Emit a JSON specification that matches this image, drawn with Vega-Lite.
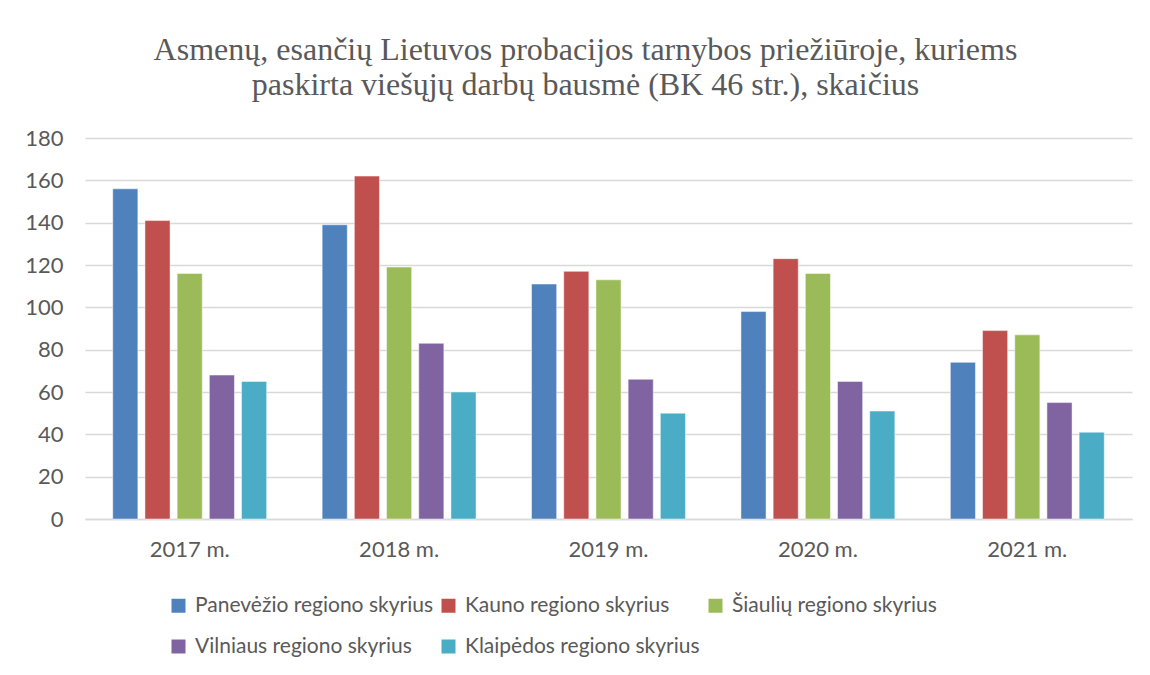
{
  "$schema": "https://vega.github.io/schema/vega-lite/v6.json",
  "width": 1047,
  "height": 381,
  "autosize": "none",
  "padding": {"left": 85, "top": 138, "right": 18, "bottom": 156},
  "background": "white",
  "title": {
    "text": ["Asmenų, esančių Lietuvos probacijos tarnybos priežiūroje, kuriems", "paskirta viešųjų darbų bausmė (BK 46 str.), skaičius"],
    "font": "Liberation Serif",
    "fontSize": 32,
    "fontWeight": "normal",
    "color": "#595959",
    "lineHeight": 35,
    "anchor": "middle",
    "dx": -23,
    "offset": 25
  },
  "data": {
    "values": [
      {"year": "2017 m.", "region": "Panevėžio regiono skyrius", "value": 156},
      {"year": "2017 m.", "region": "Kauno regiono skyrius", "value": 141},
      {"year": "2017 m.", "region": "Šiaulių regiono skyrius", "value": 116},
      {"year": "2017 m.", "region": "Vilniaus regiono skyrius", "value": 68},
      {"year": "2017 m.", "region": "Klaipėdos regiono skyrius", "value": 65},
      {"year": "2018 m.", "region": "Panevėžio regiono skyrius", "value": 139},
      {"year": "2018 m.", "region": "Kauno regiono skyrius", "value": 162},
      {"year": "2018 m.", "region": "Šiaulių regiono skyrius", "value": 119},
      {"year": "2018 m.", "region": "Vilniaus regiono skyrius", "value": 83},
      {"year": "2018 m.", "region": "Klaipėdos regiono skyrius", "value": 60},
      {"year": "2019 m.", "region": "Panevėžio regiono skyrius", "value": 111},
      {"year": "2019 m.", "region": "Kauno regiono skyrius", "value": 117},
      {"year": "2019 m.", "region": "Šiaulių regiono skyrius", "value": 113},
      {"year": "2019 m.", "region": "Vilniaus regiono skyrius", "value": 66},
      {"year": "2019 m.", "region": "Klaipėdos regiono skyrius", "value": 50},
      {"year": "2020 m.", "region": "Panevėžio regiono skyrius", "value": 98},
      {"year": "2020 m.", "region": "Kauno regiono skyrius", "value": 123},
      {"year": "2020 m.", "region": "Šiaulių regiono skyrius", "value": 116},
      {"year": "2020 m.", "region": "Vilniaus regiono skyrius", "value": 65},
      {"year": "2020 m.", "region": "Klaipėdos regiono skyrius", "value": 51},
      {"year": "2021 m.", "region": "Panevėžio regiono skyrius", "value": 74},
      {"year": "2021 m.", "region": "Kauno regiono skyrius", "value": 89},
      {"year": "2021 m.", "region": "Šiaulių regiono skyrius", "value": 87},
      {"year": "2021 m.", "region": "Vilniaus regiono skyrius", "value": 55},
      {"year": "2021 m.", "region": "Klaipėdos regiono skyrius", "value": 41}
    ]
  },
  "mark": {"type": "bar", "stroke": "#ffffff", "strokeWidth": 0.8, "strokeOpacity": 0.6},
  "encoding": {
    "x": {
      "field": "year",
      "type": "nominal",
      "title": null,
      "scale": {"paddingInner": 0.265, "paddingOuter": 0.1325},
      "axis": {
        "labelAngle": 0,
        "labelFont": "Lato",
        "labelFontSize": 22,
        "labelColor": "#595959",
        "labelPadding": 20,
        "ticks": false,
        "domainColor": "#d9d9d9",
        "domainWidth": 1.5
      }
    },
    "xOffset": {
      "field": "region",
      "type": "nominal",
      "sort": ["Panevėžio regiono skyrius", "Kauno regiono skyrius", "Šiaulių regiono skyrius", "Vilniaus regiono skyrius", "Klaipėdos regiono skyrius"],
      "scale": {"paddingInner": 0.22, "paddingOuter": 0}
    },
    "y": {
      "field": "value",
      "type": "quantitative",
      "title": null,
      "scale": {"domain": [0, 180]},
      "axis": {
        "values": [0, 20, 40, 60, 80, 100, 120, 140, 160, 180],
        "labelFont": "Lato",
        "labelFontSize": 22,
        "labelColor": "#595959",
        "labelPadding": 22,
        "ticks": false,
        "domain": false,
        "gridColor": "#d9d9d9",
        "gridWidth": 1.5
      }
    },
    "color": {
      "field": "region",
      "type": "nominal",
      "sort": ["Panevėžio regiono skyrius", "Kauno regiono skyrius", "Šiaulių regiono skyrius", "Vilniaus regiono skyrius", "Klaipėdos regiono skyrius"],
      "scale": {
        "domain": ["Panevėžio regiono skyrius", "Kauno regiono skyrius", "Šiaulių regiono skyrius", "Vilniaus regiono skyrius", "Klaipėdos regiono skyrius"],
        "range": ["#4F81BD", "#C0504D", "#9BBB59", "#8064A2", "#4BACC6"]
      },
      "legend": {
        "title": null,
        "orient": "none",
        "legendX": 83,
        "legendY": 457,
        "direction": "horizontal",
        "columns": 3,
        "columnPadding": 5,
        "rowPadding": 19,
        "symbolType": "square",
        "symbolSize": 196,
        "symbolStrokeWidth": 0,
        "labelFont": "Lato",
        "labelFontSize": 21,
        "labelColor": "#595959",
        "labelOffset": 6,
        "labelLimit": 400
      }
    }
  },
  "config": {
    "view": {"stroke": null}
  }
}
